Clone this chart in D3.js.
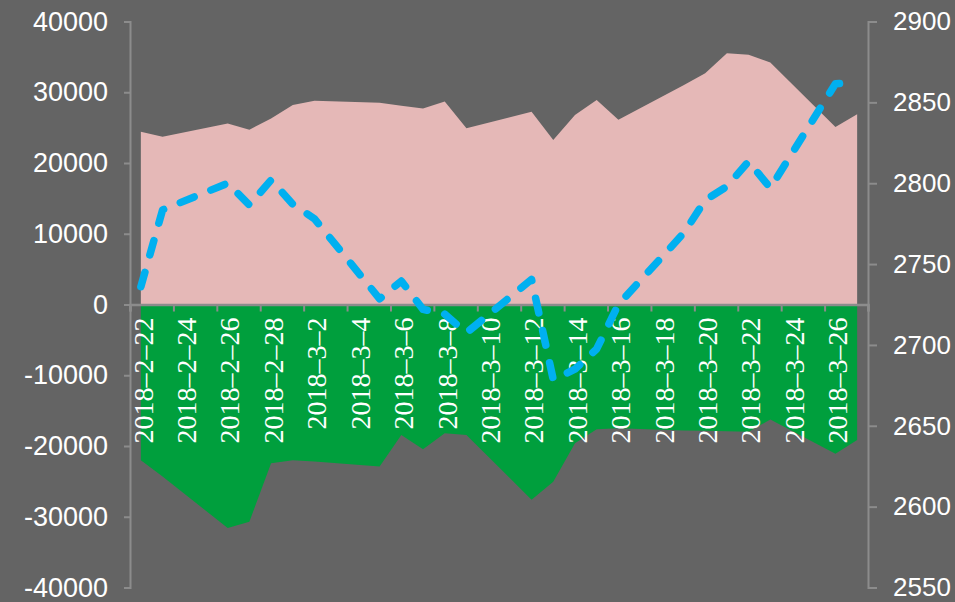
<!DOCTYPE html>
<html>
<head>
<meta charset="utf-8">
<script src="https://cdn.jsdelivr.net/npm/d3@7"></script>
<style>
  html, body { margin: 0; padding: 0; background: #646464; }
  svg { display: block; }
</style>
</head>
<body>
<svg id="chart" width="955" height="602"></svg>
<script>
// ---- data ----
const dates = ["2018-2-22","2018-2-23","2018-2-26","2018-2-27","2018-2-28","2018-3-1","2018-3-2",
  "2018-3-5","2018-3-6","2018-3-7","2018-3-8","2018-3-9","2018-3-12","2018-3-13","2018-3-14",
  "2018-3-15","2018-3-16","2018-3-19","2018-3-20","2018-3-21","2018-3-22","2018-3-23","2018-3-26","2018-3-27"];
const inflow = [24400, 23700, 25600, 24700, 26300, 28200, 28800, 28500, 28100, 27700, 28700, 24900,
  27250, 23250, 26800, 28900, 26100, 31000, 32700, 35500, 35300, 34200, 25100, 26900];
const outflow = [-22000, -24300, -31600, -30700, -22450, -22000, -22200, -22900, -18450, -20450, -18200, -18450,
  -27600, -25050, -19600, -17650, -17500, -17800, -17850, -17900, -18000, -16250, -21100, -19150];
const indexLine = [2736, 2783.5, 2800, 2786.5, 2802, 2787, 2778, 2728.5, 2739.5, 2722, 2719, 2707.5,
  2740.5, 2678.5, 2685, 2697.5, 2725, 2769, 2789.5, 2798, 2813.5, 2797, 2861.5, 2862.5];
const leftTicks = [-40000, -30000, -20000, -10000, 0, 10000, 20000, 30000, 40000];
const rightTicks = [2550, 2600, 2650, 2700, 2750, 2800, 2850, 2900];
const dateLabels = ["2018-2-22","2018-2-24","2018-2-26","2018-2-28","2018-3-2","2018-3-4","2018-3-6",
  "2018-3-8","2018-3-10","2018-3-12","2018-3-14","2018-3-16","2018-3-18","2018-3-20","2018-3-22",
  "2018-3-24","2018-3-26"];

// ---- setup ----
const parse = s => { const [y, m, d] = s.split("-").map(Number); return new Date(y, m - 1, d, 12); };
const svg = d3.select("#chart");
const L = 130, R = 868, T = 21.5, B = 587.5;
const AXIS = "#8c8c8c";

const start = parse(dates[0]); start.setHours(0);
const end = parse(dates[dates.length - 1]); end.setHours(24);
const x = d3.scaleTime().domain([start, end]).range([L, R]);
const yL = d3.scaleLinear().domain([-40000, 40000]).range([B, T]);
const yR = d3.scaleLinear().domain([2550, 2900]).range([B, T]);

const rows = dates.map((d, i) => ({ date: parse(d), inflow: inflow[i], outflow: outflow[i], idx: indexLine[i] }));

// ---- areas ----
svg.append("path").datum(rows)
  .attr("fill", "#e5b8b7")
  .attr("d", d3.area().x(d => x(d.date)).y0(yL(0)).y1(d => yL(d.inflow)));
svg.append("path").datum(rows)
  .attr("fill", "#009f3d")
  .attr("d", d3.area().x(d => x(d.date)).y0(yL(0)).y1(d => yL(d.outflow)));

// ---- axes ----
const fmt = d => String(d);
const gL = svg.append("g").attr("transform", `translate(${L},0)`)
  .call(d3.axisLeft(yL).tickValues(leftTicks).tickSize(6).tickPadding(16).tickFormat(fmt));
const gR = svg.append("g").attr("transform", `translate(${R},0)`)
  .call(d3.axisRight(yR).tickValues(rightTicks).tickSize(9).tickPadding(16).tickFormat(fmt));
[gL, gR].forEach(g => {
  g.attr("font-family", "Liberation Sans, Arial, sans-serif");
  g.select(".domain").attr("stroke", AXIS).attr("stroke-width", 2);
  g.selectAll(".tick line").attr("stroke", AXIS).attr("stroke-width", 2);
  g.selectAll(".tick text").attr("fill", "#ffffff");
});
gL.attr("font-size", 27);
gR.attr("font-size", 26);

// x axis at zero
const tickDates = d3.range(0, 18).map(k => d3.timeDay.offset(start, 2 * k));
const gX = svg.append("g").attr("transform", `translate(0,${yL(0)})`)
  .call(d3.axisBottom(x).tickValues(tickDates).tickSize(7).tickFormat(""));
gX.select(".domain").attr("stroke", AXIS).attr("stroke-width", 2.5);
gX.selectAll(".tick line").attr("stroke", AXIS).attr("stroke-width", 2);

// date labels
svg.append("g")
  .attr("font-family", "Liberation Serif")
  .attr("font-size", 28)
  .selectAll("text").data(dateLabels).join("text")
  .attr("transform", d => `translate(${x(parse(d)) + 2},${yL(0) + 13}) rotate(-90)`)
  .attr("text-anchor", "end")
  .attr("dy", "0.35em")
  .attr("fill", "#ffffff")
  .text(d => d.replace(/-/g, "\u2013"));

// ---- index line ----
svg.append("path").datum(rows)
  .attr("fill", "none")
  .attr("stroke", "#00b0f0")
  .attr("stroke-width", 7.5)
  .attr("stroke-linecap", "round")
  .attr("stroke-linejoin", "round")
  .attr("stroke-dasharray", "15,18")
  .attr("d", d3.line().x(d => x(d.date)).y(d => yR(d.idx)));
</script>
</body>
</html>
